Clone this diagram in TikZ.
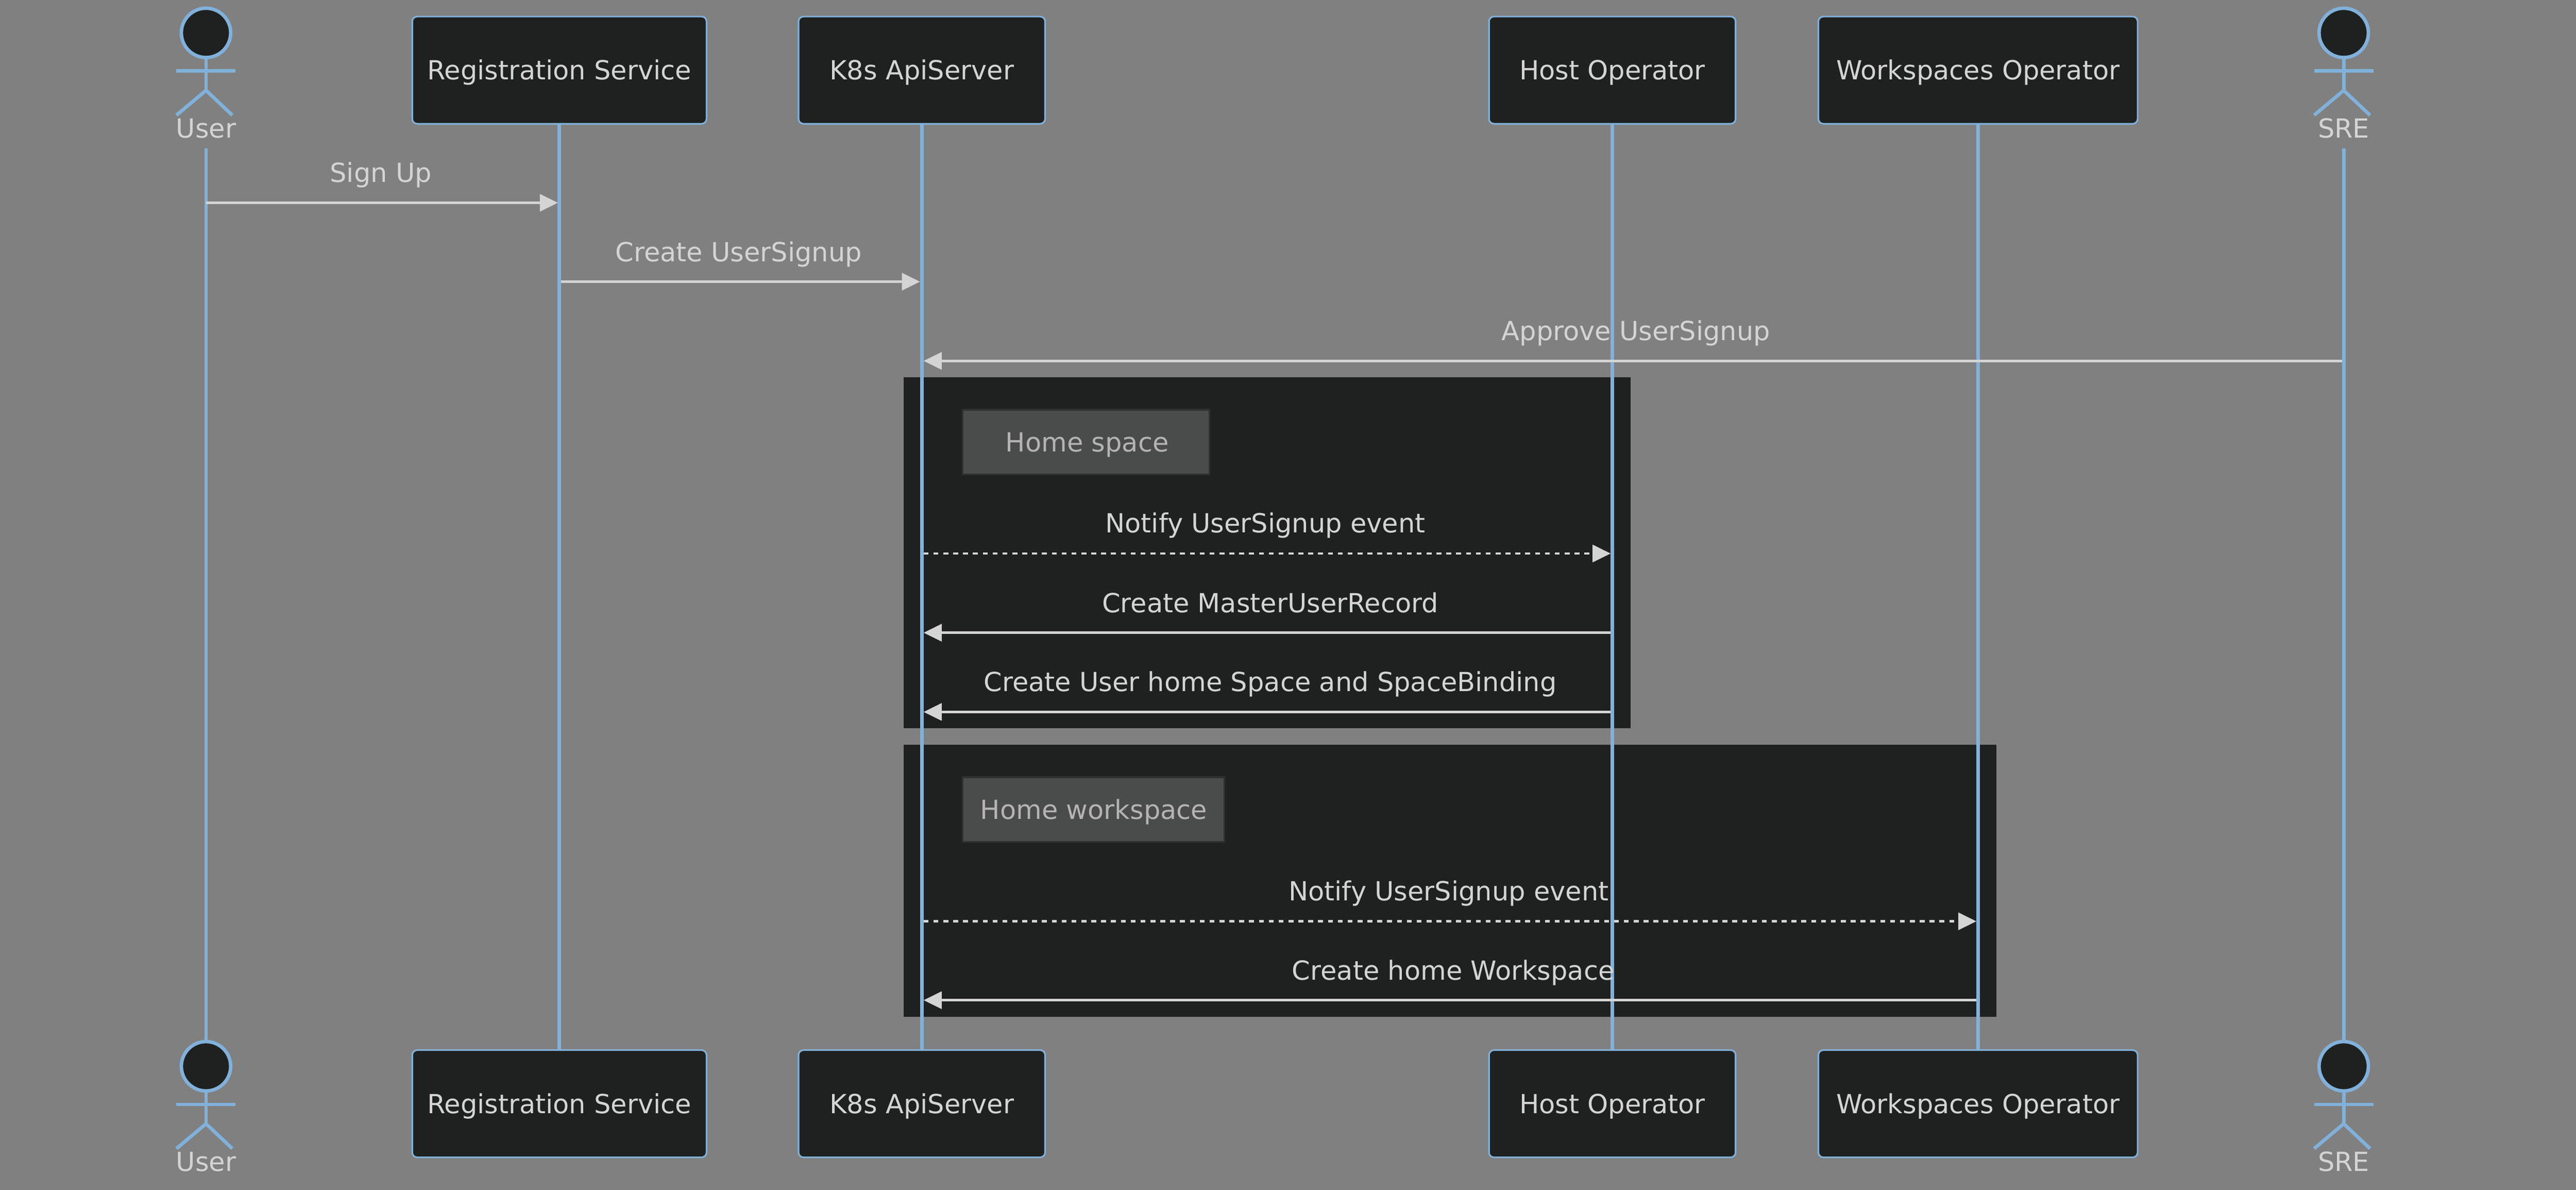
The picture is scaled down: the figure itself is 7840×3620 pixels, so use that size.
\documentclass[tikz,border=0pt]{standalone}
\usepackage{fontspec}
\setmainfont{DejaVu Sans}
\usetikzlibrary{arrows.meta}
\definecolor{bgc}{HTML}{808080}
\definecolor{dark}{HTML}{1F2120}
\definecolor{blu}{HTML}{81B1DB}
\definecolor{txt}{HTML}{D4D4D4}
\definecolor{msg}{HTML}{D4D4D4}
\definecolor{notef}{HTML}{4A4C4B}
\definecolor{notee}{HTML}{2F3030}
\definecolor{notet}{HTML}{B5B3B3}
\newcommand{\fnt}{\fontsize{22.76}{27}\selectfont}
\tikzset{
  x=0.01cm,y=-0.01cm,
  actorbox/.style={draw=blu,fill=dark,line width=0.05cm,rounded corners=0.15cm,text=txt,font=\fnt,inner sep=0pt,minimum height=3.26cm,text height=0.58cm,text depth=0pt},
  head/.style={circle,draw=blu,fill=dark,line width=0.105cm,minimum size=1.5cm,inner sep=0pt},
  limb/.style={draw=blu,line width=0.105cm},
  life/.style={draw=blu,line width=0.105cm},
  actorlabel/.style={text=txt,font=\fnt,anchor=base,inner sep=0pt},
  msgline/.style={draw=msg,line width=0.075cm,-{Triangle[length=0.55cm,width=0.52cm,fill=msg]}},
  msgdash/.style={msgline,dash pattern=on 0.15cm off 0.15cm},
  msglabel/.style={text=msg,font=\fnt,anchor=base,inner sep=0pt},
  notebox/.style={fill=notef,draw=notee,line width=0.05cm,inner sep=0pt},
  notelabel/.style={text=notet,font=\fnt,anchor=base,inner sep=0pt},
}
\begin{document}
\begin{tikzpicture}
\useasboundingbox (0,0) rectangle (7840,3620);
\fill[bgc] (0,0) rectangle (7840,3620);
% regions
\fill[dark] (2750,1148) rectangle (4962,2216);
\fill[dark] (2750,2266) rectangle (6076,3093);
% actors top
\node[actorbox,minimum width=8.95cm] (regT) at (1702.5,213.5) {Registration Service};
\node[actorbox,minimum width=7.5cm] (k8sT) at (2805.5,213.5) {K8s ApiServer};
\node[actorbox,minimum width=7.5cm] (hostT) at (4907,213.5) {Host Operator};
\node[actorbox,minimum width=9.71cm] (wsT) at (6020,213.5) {Workspaces Operator};
% actors bottom
\node[actorbox,minimum width=8.95cm] (regB) at (1702.5,3358) {Registration Service};
\node[actorbox,minimum width=7.5cm] (k8sB) at (2805.5,3358) {K8s ApiServer};
\node[actorbox,minimum width=7.5cm] (hostB) at (4907,3358) {Host Operator};
\node[actorbox,minimum width=9.71cm] (wsB) at (6020,3358) {Workspaces Operator};
% stick figures
\foreach \n/\cx/\dy/\lab in {userT/627/0/User,sreT/7133/0/SRE,userB/627/3144/User,sreB/7133/3144/SRE}{
  \node[head] (\n) at (\cx,100+\dy) {};
  \draw[limb] (\n.south) -- (\cx,275+\dy);
  \draw[limb] (\cx-90,216+\dy) -- (\cx+90,216+\dy);
  \draw[limb] (\cx-90,350.5+\dy) -- (\cx,275+\dy);
  \draw[limb] (\cx+80,350.5+\dy) -- (\cx,275+\dy);
  \node[actorlabel] (\n l) at (\cx,419+\dy) {\lab};
}
\coordinate (userS) at (627,451);
\coordinate (sreS) at (7133,451);
% lifelines
\draw[life] (userS) -- (userB.north);
\draw[life] (regT.south) -- (regB.north);
\draw[life] (k8sT.south) -- (k8sB.north);
\draw[life] (hostT.south) -- (hostB.north);
\draw[life] (wsT.south) -- (wsB.north);
\draw[life] (sreS) -- (sreB.north);
% notes
\node[notebox,minimum width=7.5cm,minimum height=1.97cm] (n1) at (3305,1345) {};
\node[notelabel] (n1t) at (3309,1374) {Home space};
\node[notebox,minimum width=7.95cm,minimum height=1.97cm] (n2) at (3328,2463) {};
\node[notelabel] (n2t) at (3329,2492) {Home workspace};
% message endpoints
\coordinate (m1a) at (627,617); \coordinate (m1b) at (1698,617);
\coordinate (m2a) at (1707,857); \coordinate (m2b) at (2800,857);
\coordinate (m3a) at (7128,1098); \coordinate (m3b) at (2811,1098);
\coordinate (m4a) at (2811,1684); \coordinate (m4b) at (4902,1684);
\coordinate (m5a) at (4902,1925); \coordinate (m5b) at (2811,1925);
\coordinate (m6a) at (4902,2166); \coordinate (m6b) at (2811,2166);
\coordinate (m7a) at (2811,2803); \coordinate (m7b) at (6015,2803);
\coordinate (m8a) at (6015,3043); \coordinate (m8b) at (2811,3043);
\draw[msgline] (m1a) -- (m1b);
\draw[msgline] (m2a) -- (m2b);
\draw[msgline] (m3a) -- (m3b);
\draw[msgdash] (m4a) -- (m4b);
\draw[msgline] (m5a) -- (m5b);
\draw[msgline] (m6a) -- (m6b);
\draw[msgdash] (m7a) -- (m7b);
\draw[msgline] (m8a) -- (m8b);
\node[msglabel] (l1) at (1159,555) {Sign Up};
\node[msglabel] (l2) at (2248,795) {Create UserSignup};
\node[msglabel] (l3) at (4979,1036) {Approve UserSignup};
\node[msglabel] (l4) at (3851,1621) {Notify UserSignup event};
\node[msglabel] (l5) at (3866,1863) {Create MasterUserRecord};
\node[msglabel] (l6) at (3866,2104) {Create User home Space and SpaceBinding};
\node[msglabel] (l7) at (4409,2740) {Notify UserSignup event};
\node[msglabel] (l8) at (4423,2981) {Create home Workspace};
\end{tikzpicture}
\end{document}
